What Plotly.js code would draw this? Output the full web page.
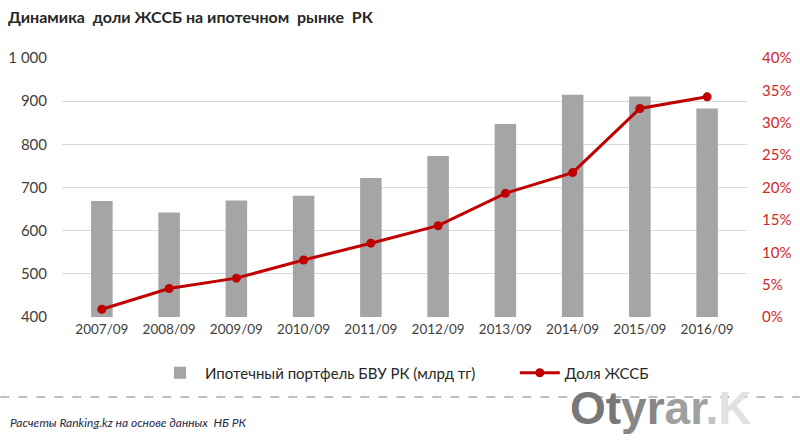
<!DOCTYPE html>
<html>
<head>
<meta charset="utf-8">
<script src="https://cdn.plot.ly/plotly-3.0.1.min.js"></script>
<style>html,body{margin:0;padding:0;background:#fff;}#chart{width:800px;height:440px;}</style>
</head>
<body>
<div id="chart"></div>
<script>
const categories = ["2007/09","2008/09","2009/09","2010/09","2011/09","2012/09","2013/09","2014/09","2015/09","2016/09"];
const portfolio = [669, 642, 670, 681, 722, 773, 847, 915, 911, 883];
const shareZhSSB = [0.012, 0.044, 0.060, 0.088, 0.114, 0.141, 0.191, 0.223, 0.322, 0.340];
const leftTicks = [400, 500, 600, 700, 800, 900, 1000];
const leftTickText = ["400", "500", "600", "700", "800", "900", "1 000"];

const FONT = "Lato, 'Open Sans', sans-serif";
const GAP = "\u00a0".repeat(9);

const traces = [
  {
    type: "bar", x: categories, y: portfolio,
    name: "Ипотечный портфель БВУ РК (млрд тг)" + GAP,
    marker: {color: "#A5A5A5"}, width: 0.32,
    hoverinfo: "skip"
  },
  {
    type: "scatter", mode: "lines+markers", x: categories, y: shareZhSSB, yaxis: "y2",
    name: "Доля ЖССБ",
    line: {color: "#C00000", width: 3},
    marker: {color: "#C00000", size: 9},
    hoverinfo: "skip"
  }
];

const layout = {
  width: 800, height: 440,
  margin: {l: 62, r: 53, t: 58, b: 123},
  paper_bgcolor: "#fff", plot_bgcolor: "#fff",
  font: {family: FONT, size: 12, color: "#404040"},
  showlegend: true,
  title: {
    text: "<b>Динамика  доли ЖССБ на ипотечном  рынке  РК</b>",
    font: {family: FONT, size: 16, color: "#262626"},
    xref: "container", yref: "container",
    x: 0.01, xanchor: "left", y: 0.961, yanchor: "middle"
  },
  xaxis: {
    type: "category", showgrid: false, zeroline: false,
    showline: false, ticks: "",
    tickfont: {family: FONT, size: 13.5, color: "#404040"},
    ticklabelstandoff: 2
  },
  yaxis: {
    range: [400, 1000], tickvals: leftTicks, ticktext: leftTickText,
    showgrid: true, gridcolor: "#D9D9D9", gridwidth: 1.3,
    zeroline: false, showline: false, ticks: "",
    tickfont: {family: FONT, size: 15, color: "#404040"},
    ticklabelstandoff: 14
  },
  yaxis2: {
    overlaying: "y", side: "right",
    range: [0, 0.4], dtick: 0.05, tickformat: ".0%",
    showgrid: false, zeroline: false, showline: false, ticks: "",
    tickfont: {family: FONT, size: 15, color: "#D02828"},
    ticklabelstandoff: 14
  },
  legend: {
    orientation: "h", x: 0.5, xanchor: "center", y: -0.216, yanchor: "middle",
    font: {family: FONT, size: 15, color: "#262626"},
    traceorder: "normal", itemwidth: 40
  },
  shapes: [
    {type: "line", xref: "paper", yref: "paper", x0: -0.09, x1: 1.08, y0: -0.309, y1: -0.309,
     line: {color: "#7F7F7F", width: 1, dash: "dash"}}
  ],
  annotations: [
    {text: "<i>Расчеты Ranking.kz на основе данных  НБ РК</i>",
     xref: "paper", yref: "paper", x: -0.0788, y: -0.409, xanchor: "left", yanchor: "middle",
     showarrow: false, font: {family: FONT, size: 12, color: "#1F2A44"}},
    {text: "<b><span style='color:rgb(120,120,120)'>Ot</span><span style='color:rgb(135,135,135)'>yr</span><span style='color:rgb(160,160,160)'>ar</span><span style='color:rgb(195,195,195)'>.</span><span style='color:rgb(225,225,225)'>K</span></b>",
     xref: "paper", yref: "paper", x: 0.738, y: -0.352, xanchor: "left", yanchor: "middle",
     showarrow: false, font: {family: "Liberation Sans, Arial, sans-serif", size: 46, color: "rgb(130,130,130)"}}
  ]
};

Plotly.newPlot("chart", traces, layout, {staticPlot: true, displayModeBar: false});
</script>
</body>
</html>
